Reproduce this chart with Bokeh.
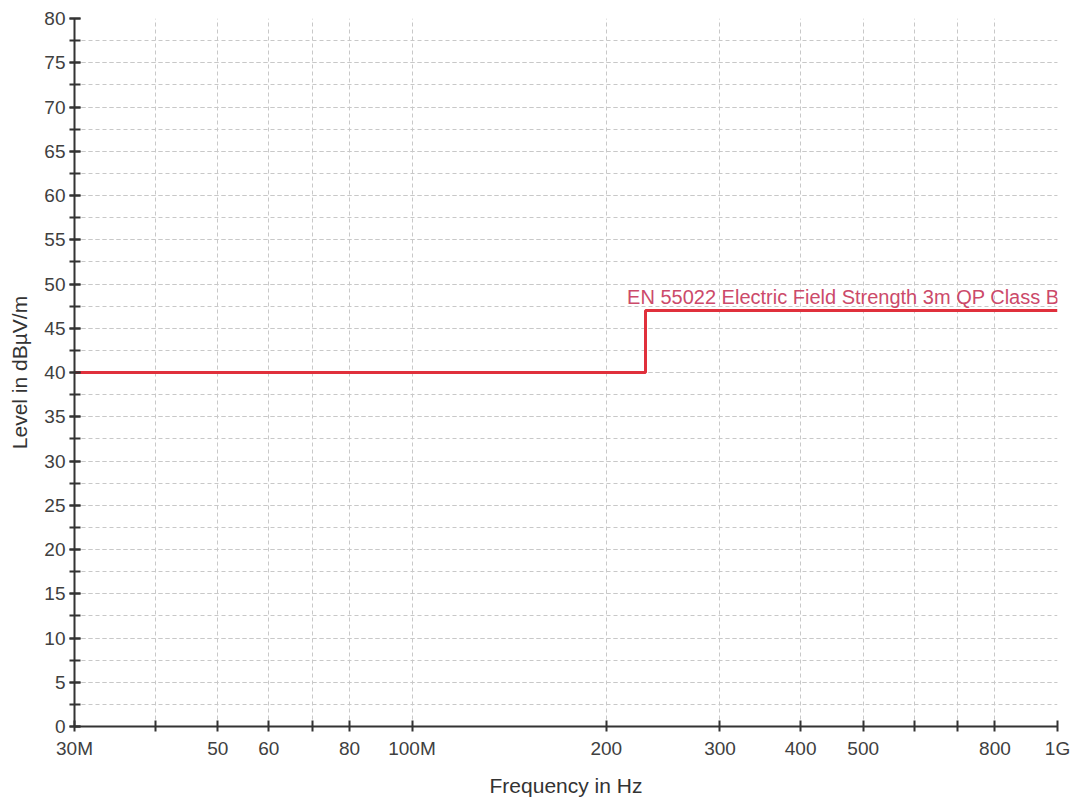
from bokeh.plotting import figure
from bokeh.models import FixedTicker, SingleIntervalTicker, Range1d
from bokeh.core.properties import value
from bokeh.embed import file_html
from bokeh.resources import INLINE

# Limit line data (frequency in Hz, level in dBuV/m)
limit_freq = [30e6, 230e6, 1e9]
limit_level = [40, 47, 47]
limit_name = "EN 55022 Electric Field Strength 3m QP Class B"

x_ticks = [30e6, 40e6, 50e6, 60e6, 70e6, 80e6, 100e6, 200e6, 300e6, 400e6,
           500e6, 600e6, 700e6, 800e6, 1e9]
x_labels = ["30M", "", "50", "60", "", "80", "100M", "200", "300", "400",
            "500", "", "", "800", "1G"]

FONT = "Liberation Sans"

p = figure(width=1075, height=799, x_axis_type="log",
           x_range=Range1d(30e6, 1e9), y_range=Range1d(0, 80),
           output_backend="svg", toolbar_location=None,
           min_border_left=74, min_border_right=18, min_border_top=18,
           min_border_bottom=73, frame_width=983, frame_height=708)
p.outline_line_color = None
p.background_fill_color = "white"

p.xaxis.ticker = FixedTicker(ticks=x_ticks, minor_ticks=[])
p.xaxis.major_label_overrides = {int(t): l for t, l in zip(x_ticks, x_labels)}
p.yaxis.ticker = SingleIntervalTicker(interval=5, num_minor_ticks=2)

for ax in (p.xaxis, p.yaxis):
    ax.axis_line_color = "#333333"
    ax.axis_line_width = 2
    ax.major_tick_line_color = "#333333"
    ax.major_tick_line_width = 2
    ax.minor_tick_line_color = "#333333"
    ax.minor_tick_line_width = 2
    ax.major_tick_in = 6
    ax.major_tick_out = 5
    ax.minor_tick_in = 6
    ax.minor_tick_out = 5
    ax.major_label_text_font = FONT
    ax.major_label_text_font_size = "19px"
    ax.major_label_text_color = "#404040"
    ax.axis_label_text_font = FONT
    ax.axis_label_text_font_size = "21px"
    ax.axis_label_text_font_style = "normal"
    ax.axis_label_text_color = "#333333"

p.xaxis.major_label_standoff = 6
p.yaxis.major_label_standoff = 4
p.xaxis.axis_label = "Frequency in Hz"
p.yaxis.axis_label = "Level in dB\u00b5V/m"
p.xaxis.axis_label_standoff = 12
p.yaxis.axis_label_standoff = 10

for g in (p.xgrid, p.ygrid):
    g.grid_line_color = "#c8c8c8"
    g.grid_line_dash = "4 3"
    g.grid_line_width = 1
p.ygrid.minor_grid_line_color = "#c8c8c8"
p.ygrid.minor_grid_line_dash = "4 3"

p.step(limit_freq, limit_level, mode="after", line_color="#e0303c", line_width=3)
p.text(x=[limit_freq[-1]], y=[limit_level[-1]], text=[limit_name],
       text_align="right", text_baseline="bottom", x_offset=2, y_offset=-3,
       text_font=value(FONT), text_font_size="20px", text_color="#cc4a6a")

open("out.html", "w").write(file_html(p, INLINE))
